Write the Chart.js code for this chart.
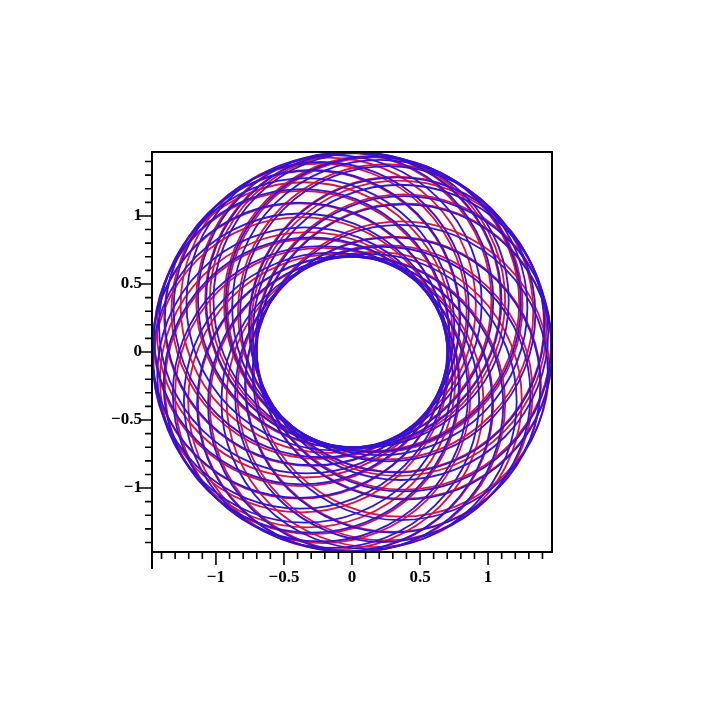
<!DOCTYPE html>
<html>
<head>
<meta charset="utf-8">
<script src="https://cdn.jsdelivr.net/npm/chart.js@4"></script>
<style>
  html, body { margin: 0; padding: 0; background: #fff; }
  #chart { display: block; }
</style>
</head>
<body>
<canvas id="chart" width="706" height="705"></canvas>
<script>
// axis range and ticks
const AXIS_MIN = -1.47;
const AXIS_MAX = 1.47;
const TICK_VALUES = [-1.4, -1.3, -1.2, -1.1, -1, -0.9, -0.8, -0.7, -0.6, -0.5, -0.4, -0.3, -0.2, -0.1,
  0, 0.1, 0.2, 0.3, 0.4, 0.5, 0.6, 0.7, 0.8, 0.9, 1, 1.1, 1.2, 1.3, 1.4];
const MAJOR_TICKS = [-1, -0.5, 0, 0.5, 1];

// each loop of the orbit: inner radius ~0.7, outer ~1.47
const LOOP_RADIUS = 1.085;   // (1.47 + 0.7) / 2
const LOOP_OFFSET = 0.385;   // (1.47 - 0.7) / 2

// direction (deg) of the outermost point of each loop
const blueAngles = [0, 9, 22, 31, 47, 58, 66, 80, 88, 97, 110, 126, 139, 150,
  163, 178, 190, 206, 219, 233, 247, 262, 274, 289, 306, 321, 337];
const redAngles = [1, 11, 27, 32, 50, 64, 68, 84, 89, 99, 117, 129, 140, 155,
  165, 179, 194, 212, 221, 236, 252, 263, 276, 295, 309, 322, 341];

function loopCenters(angles) {
  return angles.map(a => ({
    x: LOOP_OFFSET * Math.cos(a * Math.PI / 180),
    y: LOOP_OFFSET * Math.sin(a * Math.PI / 180)
  }));
}

function loopPx(ctx) {
  const s = ctx.chart.scales.x;
  const r = Math.abs(s.getPixelForValue(LOOP_RADIUS) - s.getPixelForValue(0));
  return Number.isFinite(r) ? r : 0;
}

function fmtTick(v) {
  if (!MAJOR_TICKS.some(m => Math.abs(m - v) < 1e-9)) return "";
  const s = String(Math.abs(v));
  return v < 0 ? "\u2212" + s : s;
}

// maple style box with outer ticks
const boxPlugin = {
  id: "box",
  afterDraw(chart) {
    const { ctx, chartArea: a, scales } = chart;
    ctx.save();
    ctx.strokeStyle = "#000";
    ctx.lineWidth = 2;
    ctx.beginPath();
    ctx.moveTo(a.left, a.bottom + 17);
    ctx.lineTo(a.left, a.top);
    ctx.lineTo(a.right, a.top);
    ctx.lineTo(a.right, a.bottom);
    ctx.lineTo(a.left, a.bottom);
    ctx.stroke();

    ctx.lineWidth = 1.6;
    ctx.beginPath();
    TICK_VALUES.forEach(v => {
      const len = MAJOR_TICKS.some(m => Math.abs(m - v) < 1e-9) ? 13 : 7;
      const px = scales.x.getPixelForValue(v);
      ctx.moveTo(px, a.bottom);
      ctx.lineTo(px, a.bottom + len);
      const py = scales.y.getPixelForValue(v);
      ctx.moveTo(a.left, py);
      ctx.lineTo(a.left - len, py);
    });
    ctx.stroke();
    ctx.restore();
  }
};

const axisCommon = {
  type: "linear",
  min: AXIS_MIN,
  max: AXIS_MAX,
  afterBuildTicks: s => { s.ticks = TICK_VALUES.map(v => ({ value: v })); },
  grid: { display: false, drawTicks: false },
  border: { display: false },
  ticks: {
    autoSkip: false,
    maxRotation: 0,
    color: "#000",
    font: { family: "'Liberation Serif', 'DejaVu Serif', serif", size: 17, weight: "bold" },
    callback: v => fmtTick(v)
  }
};

new Chart(document.getElementById("chart"), {
  type: "scatter",
  data: {
    datasets: [
      {
        label: "blue",
        data: loopCenters(blueAngles),
        pointBorderColor: "#3012d8",
        pointBackgroundColor: "rgba(0,0,0,0)",
        pointBorderWidth: 1.8,
        pointRadius: loopPx,
        showLine: false,
        clip: false
      },
      {
        label: "red",
        data: loopCenters(redAngles),
        pointBorderColor: "#dc1040",
        pointBackgroundColor: "rgba(0,0,0,0)",
        pointBorderWidth: 1.8,
        pointRadius: loopPx,
        showLine: false,
        clip: false
      }
    ]
  },
  options: {
    responsive: false,
    animation: false,
    events: [],
    layout: { padding: { left: 92, top: 152, right: 154, bottom: 113 } },
    scales: {
      x: Object.assign({}, axisCommon, {
        position: "bottom",
        afterFit: s => { s.height = 40; },
        ticks: Object.assign({}, axisCommon.ticks, { padding: 15 })
      }),
      y: Object.assign({}, axisCommon, {
        position: "left",
        afterFit: s => { s.width = 60; },
        ticks: Object.assign({}, axisCommon.ticks, { padding: 10 })
      })
    },
    plugins: {
      legend: { display: false },
      tooltip: { enabled: false }
    }
  },
  plugins: [boxPlugin]
});
</script>
</body>
</html>
